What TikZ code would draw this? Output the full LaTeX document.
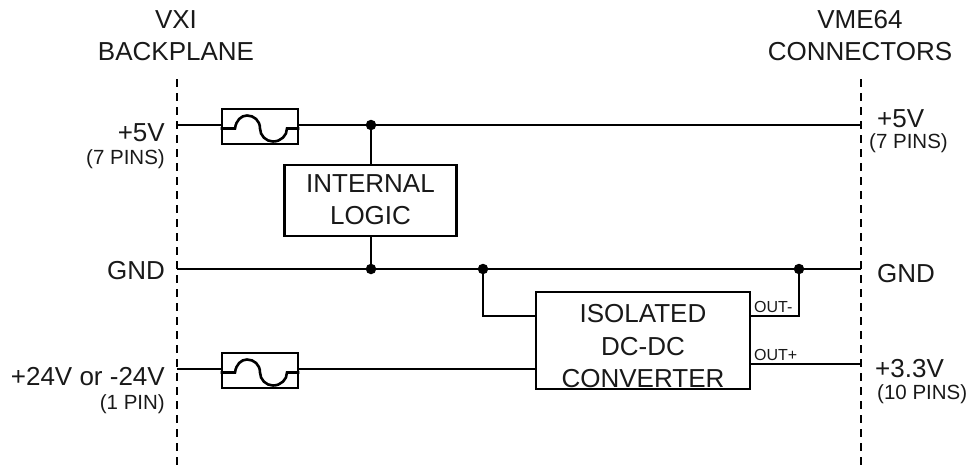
\documentclass[tikz,border=0pt]{standalone}
\usepackage{fontspec}
\setmainfont{Liberation Sans}
\usetikzlibrary{calc}
\tikzset{
  big/.style={font=\fontsize{26}{30}\selectfont,inner sep=0pt,text=black!90},
  small/.style={font=\fontsize{20.5}{24}\selectfont,inner sep=0pt,text=black!90},
  tiny/.style={font=\fontsize{16}{19}\selectfont,inner sep=0pt,text=black!90},
  wire/.style={line width=2.6pt,line join=miter},
  boxed/.style={draw,line width=2.8pt,fill=white,inner sep=0pt},
  dashline/.style={line width=1.1pt,dash pattern=on 8pt off 6pt},
  dotn/.style={circle,fill=black,inner sep=0pt,minimum size=10.5pt},
}
\newcommand{\fuse}[3]{%
  \node[boxed,minimum width=76pt,minimum height=35pt] (#1) at (#2,#3) {};
  \draw[wire] (#1.west|-0,#3+2) -- (235,#3+2)
     .. controls (236,#3-6) and (241,#3-11) .. (247,#3-11)
     .. controls (254,#3-11) and (260,#3-6) .. (260,#3+2)
     .. controls (260,#3+9) and (266,#3+15) .. (273,#3+15)
     .. controls (281,#3+15) and (287,#3+9) .. (287,#3+2)
     -- (#1.east|-0,#3+2);
}
\begin{document}
\begin{tikzpicture}[x=1pt,y=-1pt]
\useasboundingbox (0,0) rectangle (972,469);
% headings
\node[big] (h1) at (176,20) {VXI};
\node[big] (h2) at (176,52) {BACKPLANE};
\node[big] (h3) at (860,20) {VME64};
\node[big] (h4) at (860,52) {CONNECTORS};
% backplane lines
\coordinate (lt) at (177,79);
\coordinate (lb) at (177,466);
\coordinate (rt) at (861,79);
\coordinate (rb) at (861,466);
\draw[dashline] (lt) -- (lb);
\draw[dashline] (rt) -- (rb);
% terminals
\coordinate (l5) at (177,125);
\coordinate (r5) at (861,125);
\coordinate (lg) at (177,269);
\coordinate (rg) at (861,269);
\coordinate (l24) at (177,369);
\coordinate (r33) at (861,364);
% junctions
\node[dotn] (d1) at (371,125) {};
\node[dotn] (d2) at (371,269) {};
\node[dotn] (d3) at (483,269) {};
\node[dotn] (d4) at (799,269) {};
% wires
\fuse{f1}{260}{126.5}
\fuse{f2}{260}{370.5}
\node[boxed,minimum width=172pt,minimum height=71pt] (logic) at (370.5,200.5) {};
\node[boxed,minimum width=214pt,minimum height=97pt] (conv) at (643,340.5) {};
\draw[wire] (l5) -- (f1.west|-l5);
\draw[wire] (f1.east|-l5) -- (r5);
\draw[wire] (lg) -- (rg);
\draw[wire] (l24) -- (f2.west|-l24);
\draw[wire] (f2.east|-l24) -- (conv.west|-l24);
\draw[wire] (d1) -- (logic.north-|d1);
\draw[wire] (logic.south-|d2) -- (d2);
\draw[wire] (d3) |- (conv.west|-0,316);
\draw[wire] (conv.east|-0,316) -| (d4);
\draw[wire] (conv.east|-r33) -- (r33);
% box texts
\node[big] (t1) at (370.5,184) {INTERNAL};
\node[big] (t2) at (370.5,216) {LOGIC};
\node[big] (t3) at (643,314) {ISOLATED};
\node[big] (t4) at (643,347) {DC-DC};
\node[big] (t5) at (643,379) {CONVERTER};
\node[tiny,anchor=base west] (o1) at (754,312) {OUT-};
\node[tiny,anchor=base west] (o2) at (754,360) {OUT+};
% left labels
\node[big,anchor=east] (a1) at (165,133) {+5V};
\node[small,anchor=east] (a2) at (165,159.5) {(7 PINS)};
\node[big,anchor=east] (a3) at (165,271) {GND};
\node[big,anchor=east] (a4) at (165,377) {+24V or -24V};
\node[small,anchor=east] (a5) at (165,404) {(1 PIN)};
% right labels
\node[big,anchor=west] (b1) at (877,119) {+5V};
\node[small,anchor=west] (b2) at (869,143) {(7 PINS)};
\node[big,anchor=west] (b3) at (877,274) {GND};
\node[big,anchor=west] (b4) at (875,369) {+3.3V};
\node[small,anchor=west] (b5) at (877,394) {(10 PINS)};
\end{tikzpicture}
\end{document}
